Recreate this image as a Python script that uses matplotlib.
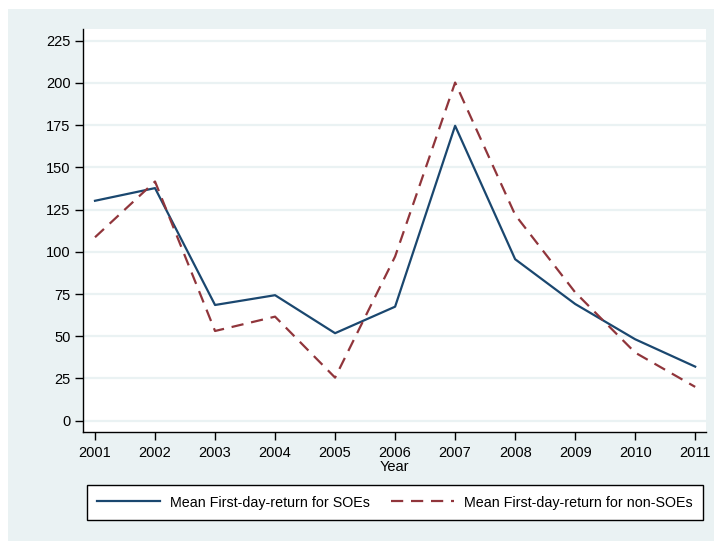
import numpy as np
import matplotlib.pyplot as plt
from matplotlib.patches import Rectangle

years = [2001, 2002, 2003, 2004, 2005, 2006, 2007, 2008, 2009, 2010, 2011]
soe = [130.2, 137.7, 68.5, 74.3, 51.8, 67.5, 174.6, 95.6, 69.1, 48.2, 32.0]
non_soe = [108.6, 141.6, 53.1, 61.6, 25.5, 97.2, 200.2, 121.9, 76.0, 40.3, 20.0]
yticks = [0, 25, 50, 75, 100, 125, 150, 175, 200, 225]

W, H = 714, 542
bg = '#EAF2F3'
navy = '#1A476F'
maroon = '#90353B'

plt.rcParams['font.family'] = ['Liberation Sans', 'DejaVu Sans']

fig = plt.figure(figsize=(W / 100, H / 100), dpi=100)
fig.patch.set_facecolor('white')
# graph region background
fig.patches.append(Rectangle((8 / W, 1 / H), (W - 8) / W, (533 - 1) / H,
                             transform=fig.transFigure, facecolor=bg,
                             edgecolor='none', zorder=-5))

ax = fig.add_axes([83 / W, (H - 432) / H, (706 - 83) / W, (432 - 29) / H])
ax.set_facecolor('white')

for y in yticks:
    ax.axhline(y, color=bg, lw=1.6, zorder=1)

ax.plot(years, soe, color=navy, lw=1.6, label='Mean First-day-return for SOEs', zorder=3)
ax.plot(years, non_soe, color=maroon, lw=1.6, ls=(0, (5.5, 3.5)),
        label='Mean First-day-return for non-SOEs', zorder=3)

ax.set_xlim(2000.8, 2011.18)
ax.set_ylim(-6.7, 231.9)
ax.set_xticks(years)
ax.set_yticks(yticks)
ax.tick_params(axis='both', direction='out', length=6, width=1, labelsize=10.5, color='black')
ax.tick_params(axis='y', pad=3)
ax.tick_params(axis='x', pad=4)
ax.set_xlabel('Year', fontsize=10.5, labelpad=0)
for s in ['top', 'right']:
    ax.spines[s].set_visible(False)
for s in ['left', 'bottom']:
    ax.spines[s].set_linewidth(1)

leg = fig.legend(loc='center', ncol=2,
                 bbox_to_anchor=(395 / W, (H - 502.5) / H),
                 fancybox=False, edgecolor='black', framealpha=1,
                 fontsize=10.3, handlelength=4.4, borderaxespad=0,
                 handletextpad=0.7, columnspacing=1.5, borderpad=0.7)
leg.get_frame().set_linewidth(1)

fig.savefig('out.png', dpi=100)
